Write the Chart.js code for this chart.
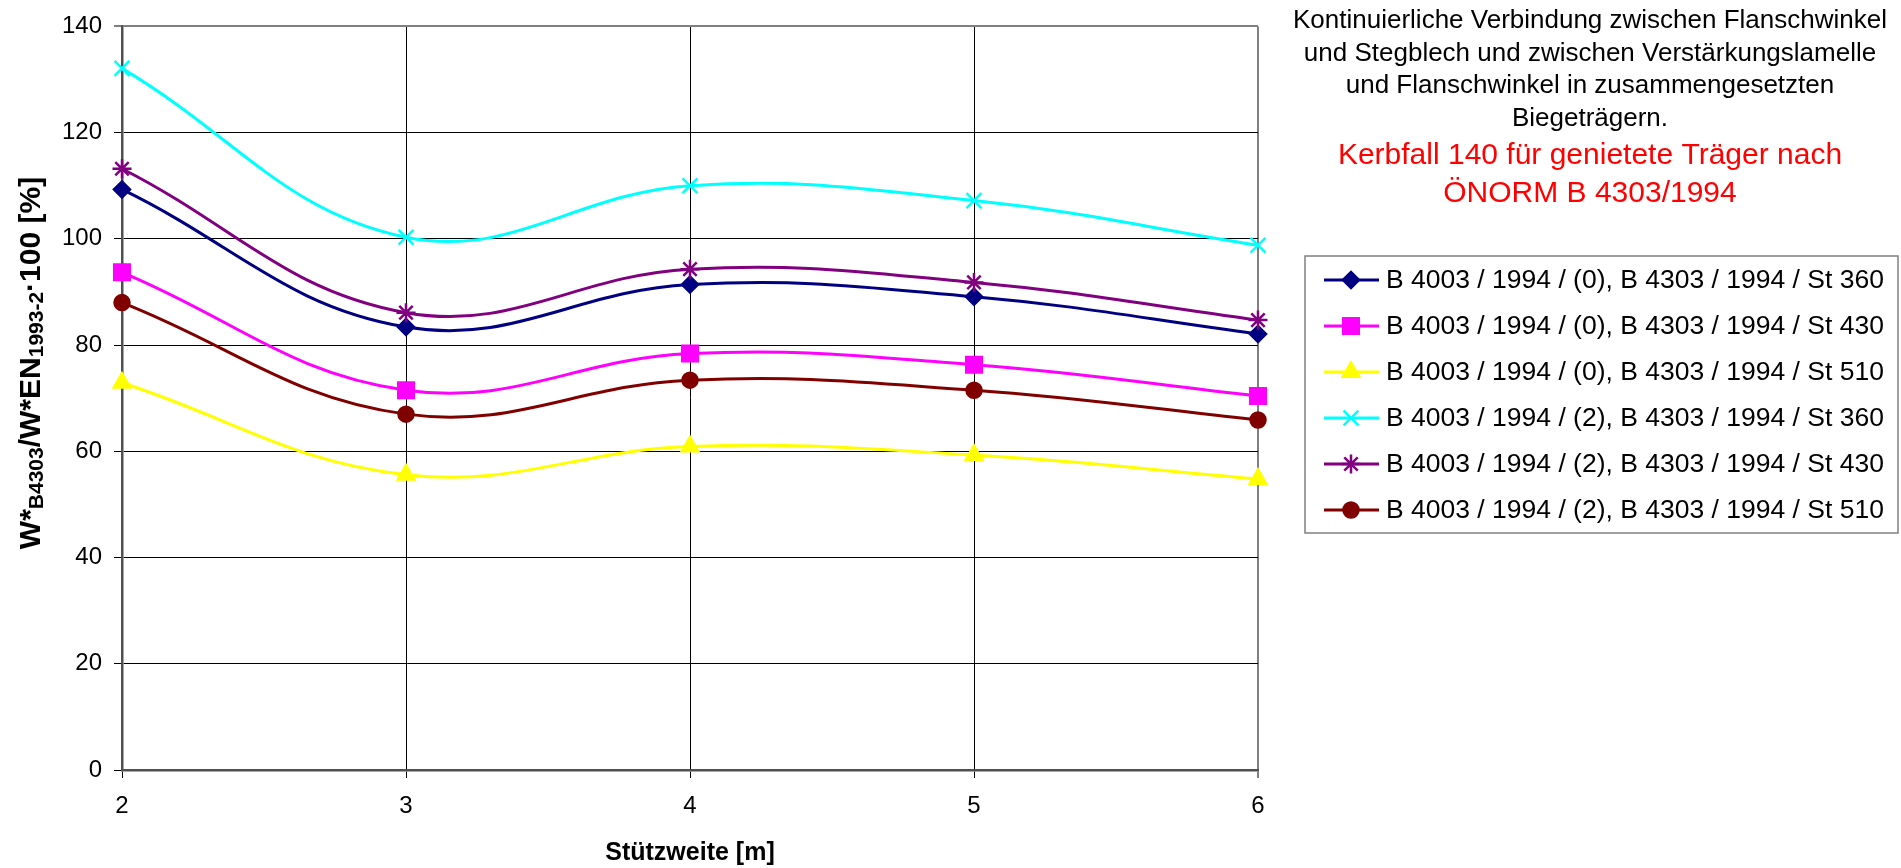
<!DOCTYPE html>
<html>
<head>
<meta charset="utf-8">
<script src="https://cdn.jsdelivr.net/npm/chart.js@4.4.1/dist/chart.umd.min.js"></script>
<style>
    html, body { margin: 0; padding: 0; background: #fff; }
    #wrap { width: 1901px; height: 868px; }
</style>
</head>
<body>
<div id="wrap"><canvas id="chart" width="1901" height="868"></canvas></div>
<script>
const spans = ["2", "3", "4", "5", "6"];
const st360_0 = [109.3, 83.4, 91.4, 89.1, 82.1];
const st430_0 = [93.7, 71.5, 78.4, 76.3, 70.4];
const st510_0 = [72.9, 55.6, 60.9, 59.3, 54.8];
const st360_2 = [132.1, 100.3, 110.0, 107.2, 98.8];
const st430_2 = [113.2, 86.1, 94.3, 91.8, 84.7];
const st510_2 = [88.0, 67.0, 73.4, 71.5, 65.9];
const yTicks = [0, 20, 40, 60, 80, 100, 120, 140];

const seriesNames = [
    "B 4003 / 1994 / (0), B 4303 / 1994 / St 360",
    "B 4003 / 1994 / (0), B 4303 / 1994 / St 430",
    "B 4003 / 1994 / (0), B 4303 / 1994 / St 510",
    "B 4003 / 1994 / (2), B 4303 / 1994 / St 360",
    "B 4003 / 1994 / (2), B 4303 / 1994 / St 430",
    "B 4003 / 1994 / (2), B 4303 / 1994 / St 510",
];
const seriesData = [st360_0, st430_0, st510_0, st360_2, st430_2, st510_2];
const seriesColors = ["#000080", "#FF00FF", "#FFFF00", "#00FFFF", "#800080", "#800000"];
const seriesStyles = ["rectRot", "rect", "triangle", "crossRot", "star", "circle"];
const seriesRadius = [8, 11, 9.5, 10.5, 9.5, 7.5];

const titleLines = [
    "Kontinuierliche Verbindung zwischen Flanschwinkel",
    "und Stegblech und zwischen Verstärkungslamelle",
    "und Flanschwinkel in zusammengesetzten",
    "Biegeträgern.",
];
const noteLines = ["Kerbfall 140 für genietete Träger nach", "ÖNORM B 4303/1994"];
const xTitle = "Stützweite [m]";
const yTitleParts = [
    ["W*", false], ["B4303", true], ["/W*EN", false], ["1993-2", true], ["·100 [%]", false],
];

const FONT = '"Liberation Sans", Arial, sans-serif';

const decor = {
    id: "decor",
    afterDraw(chart) {
        const ctx = chart.ctx;
        const helpers = Chart.helpers;

        // y axis title with subscripts
        ctx.save();
        ctx.fillStyle = "#000";
        ctx.textBaseline = "alphabetic";
        ctx.translate(40, 363);
        ctx.rotate(-Math.PI / 2);
        const mainFont = "bold 30px " + FONT;
        const subFont = "bold 21px " + FONT;
        let total = 0;
        yTitleParts.forEach(([t, sub]) => {
            ctx.font = sub ? subFont : mainFont;
            total += ctx.measureText(t).width;
        });
        let px = -total / 2;
        yTitleParts.forEach(([t, sub]) => {
            ctx.font = sub ? subFont : mainFont;
            ctx.fillText(t, px, sub ? 3 : 0);
            px += ctx.measureText(t).width;
        });
        ctx.restore();

        // x axis title
        ctx.save();
        ctx.fillStyle = "#000";
        ctx.font = "bold 25px " + FONT;
        ctx.textAlign = "center";
        ctx.textBaseline = "alphabetic";
        ctx.fillText(xTitle, 690, 860);
        ctx.restore();

        // description on the right
        ctx.save();
        ctx.textAlign = "center";
        ctx.textBaseline = "alphabetic";
        ctx.fillStyle = "#000";
        ctx.font = "26px " + FONT;
        titleLines.forEach((t, i) => ctx.fillText(t, 1590, 28 + i * 32.7));
        ctx.fillStyle = "#FF0000";
        ctx.font = "30px " + FONT;
        noteLines.forEach((t, i) => ctx.fillText(t, 1590, 164 + i * 37.5));
        ctx.restore();

        // legend
        ctx.save();
        ctx.strokeStyle = "#808080";
        ctx.lineWidth = 1.5;
        ctx.strokeRect(1305, 256, 593, 277);
        ctx.font = "26.5px " + FONT;
        ctx.textBaseline = "middle";
        ctx.textAlign = "left";
        seriesNames.forEach((name, i) => {
            const y = 280 + i * 46;
            ctx.strokeStyle = seriesColors[i];
            ctx.lineWidth = 3;
            ctx.beginPath();
            ctx.moveTo(1324, y);
            ctx.lineTo(1379, y);
            ctx.stroke();
            ctx.fillStyle = seriesColors[i];
            ctx.lineWidth = 2.5;
            helpers.drawPoint(ctx, {
                pointStyle: seriesStyles[i],
                radius: seriesRadius[i],
                borderWidth: 2.5,
                rotation: 0,
            }, 1351, y);
            ctx.fillStyle = "#000";
            ctx.fillText(name, 1386, y + 1);
        });
        ctx.restore();
    },
};

const datasets = seriesData.map((d, i) => ({
    label: seriesNames[i],
    data: d,
    borderColor: seriesColors[i],
    backgroundColor: seriesColors[i],
    borderWidth: 3,
    pointStyle: seriesStyles[i],
    pointRadius: seriesRadius[i],
    pointBorderWidth: 2.5,
    pointHoverRadius: seriesRadius[i],
    tension: 0.4,
    clip: false,
    order: seriesData.length - i,
}));

new Chart(document.getElementById("chart"), {
    type: "line",
    data: { labels: spans, datasets: datasets },
    options: {
        responsive: false,
        animation: false,
        layout: { padding: { top: 21, right: 643, left: 0, bottom: 0 } },
        plugins: {
            legend: { display: false },
            title: { display: false },
            tooltip: { enabled: false },
        },
        scales: {
            x: {
                type: "category",
                offset: false,
                afterFit: (s) => { s.height = 98; },
                grid: {
                    color: (c) => (c.index === spans.length - 1 ? "#808080" : "#000"),
                    lineWidth: (c) => (c.index === spans.length - 1 ? 2 : 1),
                    tickColor: "#000",
                    tickWidth: 1,
                    tickLength: 8,
                },
                border: { color: "#505050", width: 2.5 },
                ticks: {
                    color: "#000",
                    font: { family: FONT, size: 24 },
                    padding: 14,
                    maxRotation: 0,
                },
            },
            y: {
                min: 0,
                max: 140,
                afterFit: (s) => { s.width = 122; },
                afterBuildTicks: (s) => { s.ticks = yTicks.map((v) => ({ value: v })); },
                grid: {
                    color: (c) => (c.tick && c.tick.value === 140 ? "#808080" : "#000"),
                    lineWidth: (c) => (c.tick && c.tick.value === 140 ? 2 : 1),
                    tickColor: "#000",
                    tickWidth: 1,
                    tickLength: 8,
                },
                border: { color: "#505050", width: 2.5 },
                ticks: {
                    color: "#000",
                    font: { family: FONT, size: 24 },
                    padding: 12,
                },
            },
        },
    },
    plugins: [decor],
});
</script>
</body>
</html>
